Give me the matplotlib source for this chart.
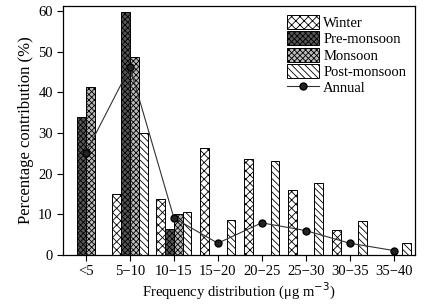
import matplotlib
matplotlib.use("Agg")
import matplotlib.pyplot as plt
import numpy as np

plt.rcParams["font.family"] = ["Liberation Serif", "DejaVu Serif"]
plt.rcParams["hatch.linewidth"] = 0.6

categories = ["<5", "5\u221210", "10\u221215", "15\u221220", "20\u221225",
              "25\u221230", "30\u221235", "35\u221240"]
winter = [0, 14.9, 13.7, 26.4, 23.5, 15.9, 6.1, 0]
pre_monsoon = [34.0, 59.8, 6.3, 0, 0, 0, 0, 0]
monsoon = [41.2, 48.8, 10.2, 0, 0, 0, 0, 0]
post_monsoon = [0, 29.9, 10.5, 8.5, 23.2, 17.7, 8.3, 2.9]
annual = [25.2, 46.2, 9.1, 2.9, 7.9, 6.0, 2.9, 1.1]

fig = plt.figure(figsize=(4.42, 3.05), dpi=100)
ax = fig.add_axes([0.143, 0.164, 0.796, 0.816])

x = np.arange(len(categories))
w = 0.2
series = [
    ("Winter", winter, "white", "xxxx"),
    ("Pre-monsoon", pre_monsoon, "#555555", "xxxxxx"),
    ("Monsoon", monsoon, "#bbbbbb", "xxxxxx"),
    ("Post-monsoon", post_monsoon, "white", "\\\\\\\\\\"),
]
offsets = [-1.5, -0.5, 0.5, 1.5]
handles = []
for (name, vals, fc, hatch), off in zip(series, offsets):
    b = ax.bar(x + off * w, vals, w, facecolor=fc, edgecolor="black",
               hatch=hatch, linewidth=0.7, label=name, zorder=2)
    handles.append(b)

ln, = ax.plot(x, annual, color="#333333", lw=0.8, marker="o", markersize=5,
              markerfacecolor="#222222", markeredgecolor="black",
              label="Annual", zorder=3)
handles.append(ln)

ax.set_xlim(-0.52, 7.49)
ax.set_ylim(0, 61.2)
ax.set_xticks(x)
ax.set_xticklabels(categories)
ax.set_yticks(range(0, 61, 10))
ax.tick_params(direction="out", length=4, width=0.8, labelsize=10.5)
for s in ax.spines.values():
    s.set_linewidth(0.9)
ax.set_ylabel("Percentage contribution (%)", fontsize=12, labelpad=3)
ax.set_xlabel("Frequency distribution (\u03bcg m$^{-3}$)", fontsize=10.5,
              labelpad=2)

ax.legend(handles=handles, loc="upper right", frameon=False, fontsize=10.5,
          handlelength=2.2, handleheight=1.1, handletextpad=0.3,
          labelspacing=0.1, borderaxespad=0.2)

fig.savefig("out.png", dpi=100)
